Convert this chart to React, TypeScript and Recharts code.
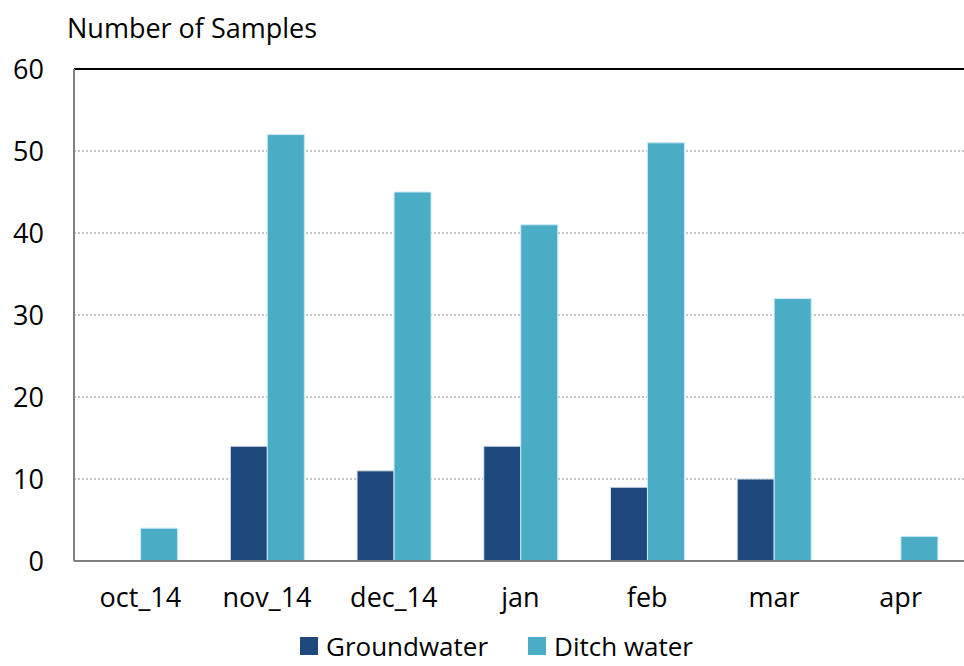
import React from "react";
import { BarChart, Bar, XAxis, YAxis, CartesianGrid, ReferenceLine } from "recharts";

const months = ["oct_14", "nov_14", "dec_14", "jan", "feb", "mar", "apr"];
const groundwater = [0, 14, 11, 14, 9, 10, 0];
const ditchWater = [4, 52, 45, 41, 51, 32, 3];
const yTicks = [0, 10, 20, 30, 40, 50, 60];

const data = months.map((m, i) => ({ month: m, ground: groundwater[i], ditch: ditchWater[i] }));

const FONT = "'Open Sans', sans-serif";
const GROUND = "#1f497d";
const DITCH = "#4bacc6";

export default function App() {
  return (
    <div style={{ position: "absolute", left: 0, top: 0, width: 964, height: 666, background: "#fff", overflow: "hidden" }}>
      <div style={{ position: "absolute", left: 67, top: 10, fontFamily: FONT, fontSize: 27, color: "#000", lineHeight: "36px" }}>
        Number of Samples
      </div>
      <BarChart
        width={964}
        height={666}
        data={data}
        margin={{ top: 69, right: 0, left: 14, bottom: 45 }}
        barCategoryGap="21%"
        barGap={0}
      >
        <CartesianGrid vertical={false} stroke="#8c8c8c" strokeDasharray="2 2" />
        <ReferenceLine y={60} stroke="#000" strokeWidth={2} />
        <XAxis
          dataKey="month"
          axisLine={{ stroke: "#808080", strokeWidth: 2 }}
          tickLine={false}
          tickSize={0}
          tickMargin={27}
          height={60}
          padding={{ left: 3, right: 0 }}
          tick={{ fill: "#000", fontSize: 27, fontFamily: FONT }}
        />
        <YAxis
          domain={[0, 60]}
          ticks={yTicks}
          width={60}
          axisLine={{ stroke: "#808080", strokeWidth: 2 }}
          tickLine={false}
          tickSize={0}
          tickMargin={30}
          tick={{ fill: "#000", fontSize: 27, fontFamily: FONT }}
        />
        <Bar dataKey="ground" name="Groundwater" fill={GROUND} stroke="#dbe6f0" strokeWidth={1} isAnimationActive={false} />
        <Bar dataKey="ditch" name="Ditch water" fill={DITCH} stroke="#c9eaf2" strokeWidth={1} isAnimationActive={false} />
      </BarChart>
      <div style={{ position: "absolute", left: 300, top: 632, display: "flex", alignItems: "center", fontFamily: FONT, fontSize: 26, color: "#000", lineHeight: "28px" }}>
        <div style={{ width: 18, height: 18, background: GROUND, marginRight: 8 }} />
        <span style={{ marginRight: 40 }}>Groundwater</span>
        <div style={{ width: 18, height: 18, background: DITCH, marginRight: 8 }} />
        <span>Ditch water</span>
      </div>
    </div>
  );
}
